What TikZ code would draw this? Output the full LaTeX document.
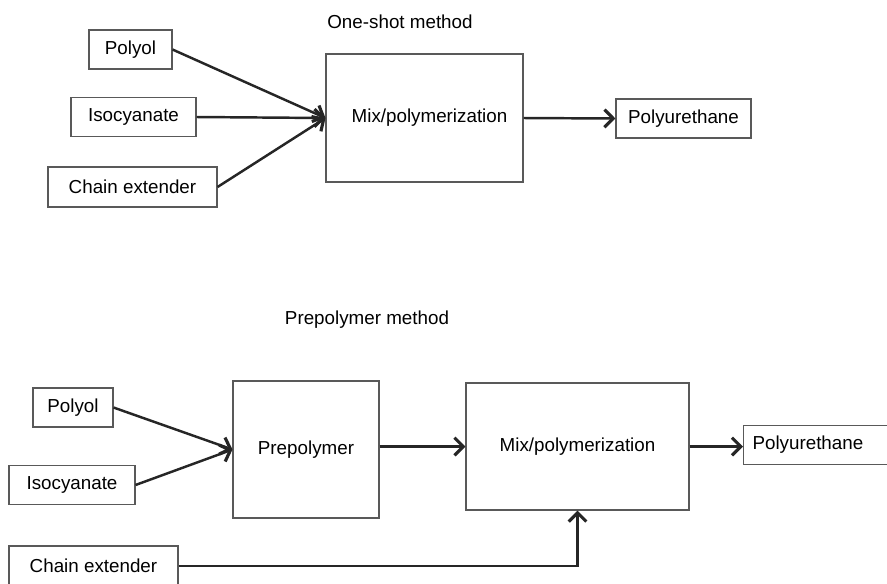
\documentclass[tikz,border=0pt]{standalone}
\usepackage{fontspec}
\setmainfont{Liberation Sans}
\usepackage{tikz}
\usetikzlibrary{arrows.meta, positioning, calc}

\tikzset{
  box/.style={draw=black!65, line width=0.6pt, inner sep=0pt, minimum height=0.78cm,
    font=\fontsize{10.7}{12}\selectfont},
  flow/.style={draw=black!85, line width=1.4pt, -{Straight Barb[length=5pt,width=10pt,line width=1.8pt]}},
  title/.style={font=\fontsize{10.7}{12}\selectfont}
}

\begin{document}
\begin{tikzpicture}[x=0.02cm, y=-0.02cm]
\useasboundingbox (0,0) rectangle (887,583);
\clip (0,0) rectangle (887,583);

% One-shot method
\node[title] (t1) at (400,22) {One-shot method};
\node[box, minimum width=1.66cm] (polyolA) at (130.5,49.5) {Polyol};
\node[box, minimum width=2.5cm] (isoA) at (133.5,117) {Isocyanate};
\node[box, minimum width=3.38cm, minimum height=0.8cm] (chainA) at (132.5,187) {Chain extender};
\node[box, minimum width=3.94cm, minimum height=2.56cm] (mixA) at (424.5,118) {\hspace{0.2cm}Mix/polymerization};
\node[box, minimum width=2.7cm] (puA) at (683.5,118.5) {Polyurethane};
\draw[flow] (polyolA.east) -- (mixA.west);
\draw[flow] (isoA.east) -- (mixA.west);
\draw[flow] (chainA.east) -- (mixA.west);
\draw[flow] (mixA.east) -- (puA.west);

% Prepolymer method
\node[title] (t2) at (367,320) {Prepolymer method};
\node[box, minimum width=1.6cm] (polyolB) at (73,407.5) {Polyol};
\node[box, minimum width=2.52cm] (isoB) at (72,485) {Isocyanate};
\node[box, minimum width=3.38cm, minimum height=0.8cm] (chainB) at (93.5,566) {Chain extender};
\node[box, minimum width=2.92cm, minimum height=2.74cm] (prepoly) at (306,449.5) {Prepolymer};
\node[box, minimum width=4.46cm, minimum height=2.54cm] (mixB) at (577.5,446.5) {Mix/polymerization};
\node[box, anchor=west, text width=3cm, align=left, inner xsep=0.18cm] (puB) at (743,445) {Polyurethane};
\draw[flow] (polyolB.east) -- (prepoly.west);
\draw[flow] (isoB.east) -- (prepoly.west);
\draw[flow] (prepoly.east |- mixB.west) -- (mixB.west);
\draw[flow] (mixB.east) -- (mixB.east -| puB.west);
\draw[flow] (chainB.east) -| (mixB.south);
\end{tikzpicture}
\end{document}
